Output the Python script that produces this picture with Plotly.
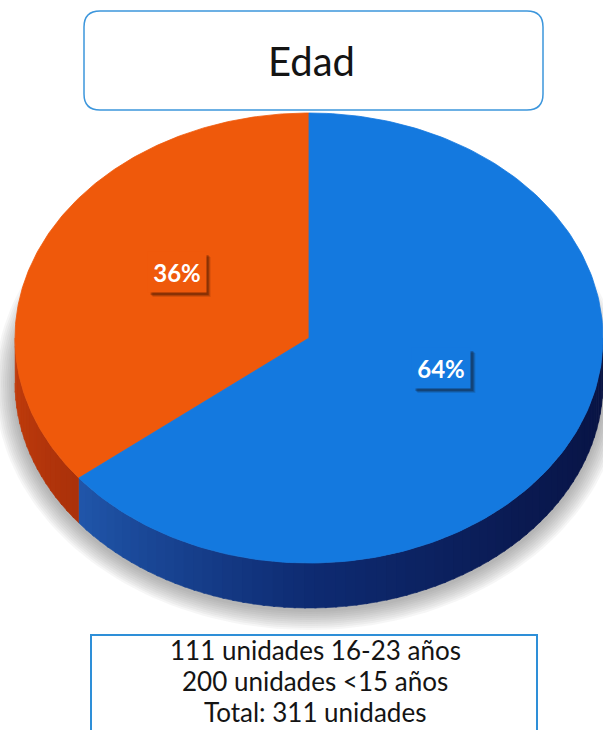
import numpy as np
import plotly.graph_objects as go

# ---- data ----
categorias = ["16-23 años", "<15 años"]
unidades = [111, 200]
titulo = "Edad"

# ---- styling ----
colores_cara = ["#EF590B", "#1479DF"]
# side-wall gradient stops per slice: (angle in degrees, colour)
gradiente_lado = [
    [(90, "#C43E0C"), (130, "#A9300A")],
    [(129, "#2056AA"), (180, "#0E2B72"), (225, "#0A1A52"), (270, "#071140")],
]
FUENTE = "Lato"

W, H = 603, 730
CX, CY = 309, 338          # centre of the top face (px)
RX, RY = 294, 225          # ellipse radii of the top face
DEPTH = 45                 # thickness of the disc
LBL_W, LBL_H = 58, 40      # percentage label box size (px)

total = sum(unidades)
fracs = [u / total for u in unidades]
inicio = np.cumsum([0] + fracs[:-1]) * 360.0   # counter-clockwise from 12 o'clock
fin = inicio + np.array(fracs) * 360.0


def borde(theta_deg, dy=0.0):
    t = np.radians(theta_deg)
    return CX - RX * np.sin(t), CY - RY * np.cos(t) + dy


def hex_rgb(h):
    h = h.lstrip("#")
    return [int(h[i:i + 2], 16) for i in (0, 2, 4)]


def color_en(stops, a):
    angs = [s[0] for s in stops]
    cols = [hex_rgb(s[1]) for s in stops]
    a = min(max(a, angs[0]), angs[-1])
    for i in range(len(angs) - 1):
        if angs[i] <= a <= angs[i + 1]:
            f = (a - angs[i]) / (angs[i + 1] - angs[i])
            c = [round(cols[i][k] + f * (cols[i + 1][k] - cols[i][k])) for k in range(3)]
            return "rgb(%d,%d,%d)" % tuple(c)
    return "rgb(%d,%d,%d)" % tuple(cols[-1])


fig = go.Figure()

# soft drop shadow under the disc
for k in range(10, 0, -1):
    t = np.linspace(0, 360, 181)
    xs = CX - (RX + 2.0 * k) * np.sin(np.radians(t))
    ys = CY + DEPTH + 2 - (RY + 2.0 * k) * np.cos(np.radians(t))
    fig.add_trace(go.Scatter(x=xs, y=ys, mode="lines", fill="toself",
                             fillcolor="rgba(110,110,110,0.06)",
                             line=dict(width=0), hoverinfo="skip"))

# visible side wall (front half, 90..270 deg)
for i in range(len(unidades)):
    a0, a1 = max(inicio[i], 90), min(fin[i], 270)
    if a1 <= a0:
        continue
    n = max(2, int((a1 - a0) / 2))
    cortes = np.linspace(a0, a1, n + 1)
    for j in range(n):
        s0, s1 = cortes[j], cortes[j + 1] + 0.4
        arc = np.linspace(s0, min(s1, a1), 6)
        xt, yt = borde(arc)
        xb, yb = borde(arc[::-1], DEPTH)
        col = color_en(gradiente_lado[i], (s0 + s1) / 2)
        fig.add_trace(go.Scatter(x=np.r_[xt, xb], y=np.r_[yt, yb], mode="lines",
                                 fill="toself", fillcolor=col,
                                 line=dict(width=0.6, color=col), hoverinfo="skip"))

# top face sectors
for i in range(len(unidades)):
    arc = np.linspace(inicio[i], fin[i], 200)
    xa, ya = borde(arc)
    fig.add_trace(go.Scatter(x=np.r_[CX, xa, CX], y=np.r_[CY, ya, CY], mode="lines",
                             fill="toself", fillcolor=colores_cara[i],
                             line=dict(width=0.8, color=colores_cara[i]),
                             name=categorias[i], hoverinfo="skip"))

# percentage labels with a drop shadow box
anotaciones = []
shapes = []
for i in range(len(unidades)):
    mid = np.radians((inicio[i] + fin[i]) / 2)
    lx = CX - RX * 0.5 * np.sin(mid)
    ly = CY - 18 - RY * 0.49 * np.cos(mid)
    txt = "%d%%" % round(100 * unidades[i] / total)
    for off, alpha in ((5, 0.12), (4, 0.18), (3, 0.25)):
        shapes.append(dict(type="rect", xref="x", yref="y",
                           x0=lx - LBL_W / 2 + off, x1=lx + LBL_W / 2 + off,
                           y0=ly - LBL_H / 2 + off, y1=ly + LBL_H / 2 + off,
                           line=dict(width=0), fillcolor="rgba(20,5,0,%.2f)" % alpha))
    anotaciones.append(dict(x=lx, y=ly, xref="x", yref="y", text=txt, showarrow=False,
                            width=LBL_W, height=LBL_H, borderpad=0,
                            bgcolor=colores_cara[i],
                            font=dict(family=FUENTE, size=24, color="white",
                                      weight="bold")))

# title
anotaciones.append(dict(x=311, y=61, xref="x", yref="y", text=titulo, showarrow=False,
                        font=dict(family=FUENTE, size=40, color="#141414")))

# summary box text
lineas = [
    "%d unidades %s" % (unidades[0], categorias[0]),
    "%d unidades %s" % (unidades[1], categorias[1]),
    "Total: %d unidades" % total,
]
for k, t in enumerate(lineas):
    anotaciones.append(dict(x=315, y=650 + 31 * k, xref="x", yref="y", text=t,
                            showarrow=False, borderpad=0,
                            font=dict(family=FUENTE, size=26, color="#141414")))


def caja_redondeada(x0, y0, x1, y1, r):
    return (f"M {x0 + r},{y0} L {x1 - r},{y0} Q {x1},{y0} {x1},{y0 + r} "
            f"L {x1},{y1 - r} Q {x1},{y1} {x1 - r},{y1} L {x0 + r},{y1} "
            f"Q {x0},{y1} {x0},{y1 - r} L {x0},{y0 + r} Q {x0},{y0} {x0 + r},{y0} Z")


shapes += [
    dict(type="path", xref="x", yref="y", path=caja_redondeada(84, 11, 543, 110, 16),
         line=dict(color="#3C96DC", width=1.5), fillcolor="rgba(0,0,0,0)", layer="below"),
    dict(type="rect", xref="x", yref="y", x0=91, y0=635, x1=537, y1=745,
         line=dict(color="#2E8FD8", width=2), fillcolor="rgba(0,0,0,0)"),
]

fig.update_layout(
    width=W, height=H, margin=dict(l=0, r=0, t=0, b=0),
    paper_bgcolor="white", plot_bgcolor="white", showlegend=False,
    xaxis=dict(range=[0, W], visible=False, fixedrange=True),
    yaxis=dict(range=[H, 0], visible=False, fixedrange=True),
    annotations=anotaciones, shapes=shapes,
)

fig.write_html("out.html")
